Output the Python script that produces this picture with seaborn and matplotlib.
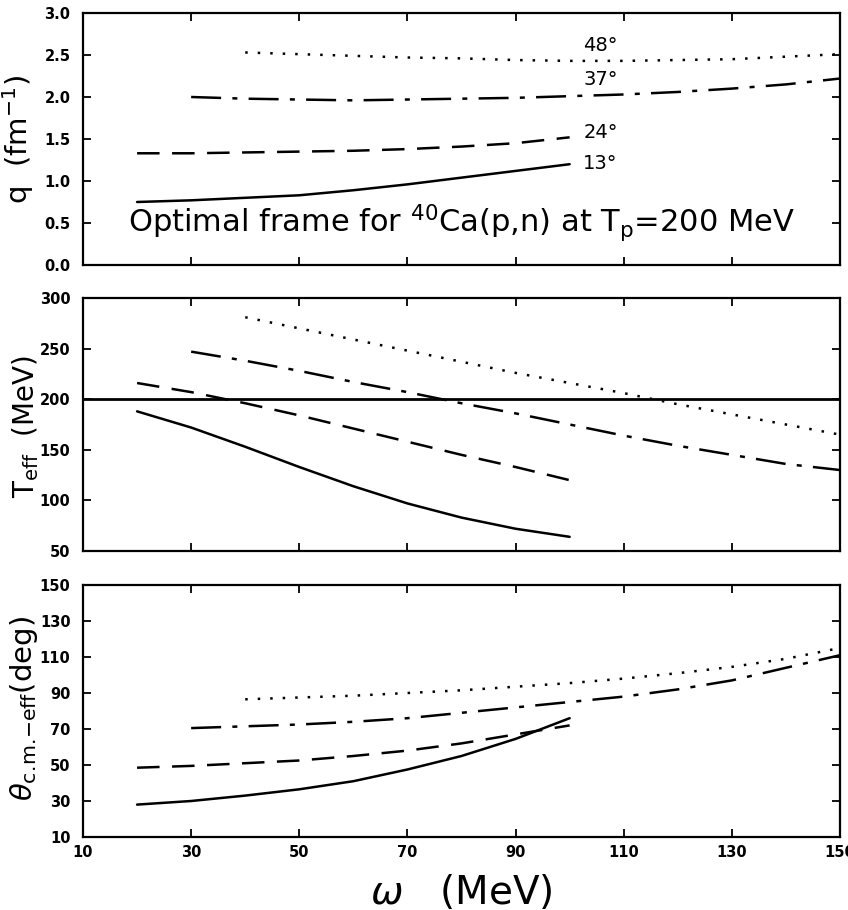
import numpy as np
import pandas as pd
import seaborn as sns
import matplotlib
matplotlib.use("Agg")
import matplotlib.pyplot as plt

sns.set_theme(style="white")
plt.rcParams['font.family'] = ['DejaVu Sans']
plt.rcParams['mathtext.fontset'] = 'dejavusans'
plt.rcParams['text.color'] = 'black'
plt.rcParams['axes.labelcolor'] = 'black'
plt.rcParams['xtick.color'] = 'black'
plt.rcParams['ytick.color'] = 'black'

# ---------------- data ----------------
angles = ["13°", "24°", "37°", "48°"]
w13 = [20, 30, 40, 50, 60, 70, 80, 90, 100]
w24 = [20, 30, 40, 50, 60, 70, 80, 90, 100]
w37 = [30, 40, 50, 60, 70, 80, 90, 100, 110, 120, 130, 140, 150]
w48 = [40, 50, 60, 70, 80, 90, 100, 110, 120, 130, 140, 150]

q13 = [0.75, 0.77, 0.80, 0.83, 0.89, 0.96, 1.04, 1.12, 1.20]
q24 = [1.33, 1.33, 1.34, 1.35, 1.36, 1.38, 1.41, 1.45, 1.52]
q37 = [2.00, 1.98, 1.97, 1.96, 1.97, 1.98, 1.99, 2.01, 2.03, 2.06, 2.10, 2.15, 2.22]
q48 = [2.53, 2.51, 2.49, 2.47, 2.46, 2.44, 2.43, 2.43, 2.44, 2.45, 2.48, 2.51]

t13 = [188, 172, 153, 133, 114, 97, 83, 72, 64]
t24 = [216, 207, 196, 184, 171, 158, 145, 133, 120]
t37 = [247, 238, 228, 217, 207, 196, 186, 175, 164, 154, 145, 136, 130]
t48 = [281, 270, 259, 248, 237, 226, 216, 206, 195, 185, 175, 165]
t_ref = 200

th13 = [28, 30, 33, 36.5, 41, 47.5, 55, 64.5, 76]
th24 = [48.5, 49.5, 51, 52.5, 55, 58, 62, 67, 72]
th37 = [70.5, 71.5, 72.5, 74, 76, 79, 82, 85, 88, 92, 97, 104, 111]
th48 = [86.5, 87.5, 88.5, 90, 91.5, 93.5, 95.5, 98, 101, 104.5, 109, 115]

omegas = [w13, w24, w37, w48]
panels = [[q13, q24, q37, q48], [t13, t24, t37, t48], [th13, th24, th37, th48]]

styles = ["-", (0, (9, 5)), (0, (12, 4.5, 2, 4.5)), (0, (1, 4))]

fig = plt.figure(figsize=(8.48, 9.10), dpi=100)
W, H = 848.0, 910.0
x0, x1 = 83, 840
pix_boxes = [(13, 265), (298, 551), (585, 837)]
axes = [fig.add_axes([x0 / W, 1 - b / H, (x1 - x0) / W, (b - t) / H])
        for t, b in pix_boxes]

tick_font = dict(family=['Liberation Sans Narrow', 'DejaVu Sans'], weight='bold', size=10.5)

for ax, series in zip(axes, panels):
    for w, y, ls in zip(omegas, series, styles):
        df = pd.DataFrame({"w": w, "y": y})
        sns.lineplot(data=df, x="w", y="y", ax=ax, color="black",
                     linewidth=1.8, linestyle=ls, estimator=None, sort=False)
    ax.set_xlim(10, 150)
    ax.set_xticks(np.arange(10, 151, 20))
    ax.tick_params(direction="in", length=6, width=1.3, top=True, right=True,
                   bottom=True, left=True, pad=9, colors="black")
    for s in ax.spines.values():
        s.set_linewidth(1.6)
        s.set_color("black")
    ax.set_xlabel("")
    ax.set_ylabel("")

# top panel
ax = axes[0]
ax.set_ylim(0, 3)
yt = np.arange(0, 3.01, 0.5)
ax.set_yticks(yt)
ax.set_yticklabels([f"{v:.1f}" for v in yt], fontdict=tick_font)
ax.tick_params(labelbottom=False)
ax.set_ylabel(r"q  (fm$^{-1}$)", fontsize=21)
ax.yaxis.set_label_coords(-0.062, 0.5)
label_pos = [(102.5, 1.21), (102.5, 1.58), (102.5, 2.21), (102.5, 2.61)]
for a, (xx, yy) in zip(angles, label_pos):
    ax.text(xx, yy, a, fontsize=14, va="center", ha="left")
ax.text(80, 0.5, r"Optimal frame for $^{40}$Ca(p,n) at T$_{\rm p}$=200 MeV",
        fontsize=22, ha="center", va="center")

# middle panel
ax = axes[1]
ax.set_ylim(50, 300)
yt = np.arange(50, 301, 50)
ax.set_yticks(yt)
ax.set_yticklabels([f"{v:d}" for v in yt], fontdict=tick_font)
ax.tick_params(labelbottom=False)
ax.axhline(t_ref, color="black", linewidth=2.0)
ax.set_ylabel(r"T$_{\rm eff}$  (MeV)", fontsize=20)
ax.yaxis.set_label_coords(-0.055, 0.49)

# bottom panel
ax = axes[2]
ax.set_ylim(10, 150)
yt = np.arange(10, 151, 20)
ax.set_yticks(yt)
ax.set_yticklabels([f"{v:d}" for v in yt], fontdict=tick_font)
ax.set_xticklabels([f"{v:d}" for v in np.arange(10, 151, 20)], fontdict=tick_font)
ax.tick_params(axis="x", pad=6)
ax.set_ylabel(r"$\theta_{\mathrm{c.\!m.\!{-}eff}}$(deg)", fontsize=21)
ax.yaxis.set_label_coords(-0.057, 0.51)
ax.set_xlabel(r"$\omega$   (MeV)", fontsize=28, labelpad=9)

fig.savefig("out.png", dpi=100)
